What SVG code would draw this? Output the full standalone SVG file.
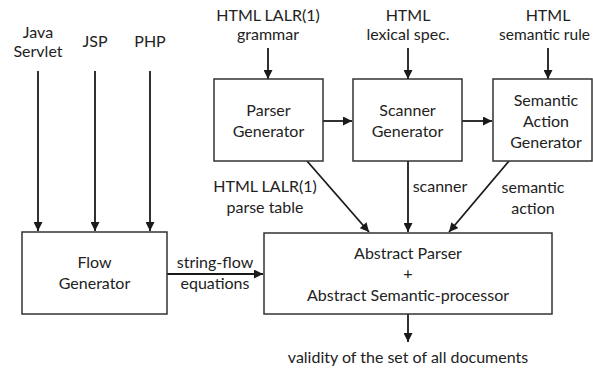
<svg xmlns="http://www.w3.org/2000/svg" width="593" height="369" viewBox="0 0 593 369">
<style>
.box{fill:#fff;stroke:#333;stroke-width:1.5}
.ln{stroke:#1a1a1a;stroke-width:1.8;fill:none}
text{font-family:Lato,"Open Sans","Liberation Sans",sans-serif;font-size:16px;fill:#222;text-anchor:middle}
</style>
<defs>
<marker id="ah" viewBox="0 0 10 10" refX="10" refY="5" markerWidth="10" markerHeight="9" markerUnits="userSpaceOnUse" orient="auto">
<path d="M0,0 L10,5 L0,10 z" fill="#1a1a1a"/>
</marker>
</defs>
<rect width="593" height="369" fill="#fff"/>
<g id="connectors">
<line class="ln" x1="38" y1="71" x2="38" y2="231" marker-end="url(#ah)"/>
<line class="ln" x1="95" y1="71" x2="95" y2="231" marker-end="url(#ah)"/>
<line class="ln" x1="150" y1="71" x2="150" y2="231" marker-end="url(#ah)"/>
<line class="ln" x1="268" y1="48" x2="268" y2="79" marker-end="url(#ah)"/>
<line class="ln" x1="408" y1="48" x2="408" y2="79" marker-end="url(#ah)"/>
<line class="ln" x1="548" y1="48" x2="548" y2="79" marker-end="url(#ah)"/>
<line class="ln" x1="323" y1="121" x2="352" y2="121" marker-end="url(#ah)"/>
<line class="ln" x1="462" y1="121" x2="492" y2="121" marker-end="url(#ah)"/>
<line class="ln" x1="307" y1="161" x2="369" y2="232" marker-end="url(#ah)"/>
<line class="ln" x1="408" y1="161" x2="408" y2="232" marker-end="url(#ah)"/>
<line class="ln" x1="509" y1="161" x2="449" y2="232" marker-end="url(#ah)"/>
<line class="ln" x1="167" y1="274" x2="263" y2="274" marker-end="url(#ah)"/>
<line class="ln" x1="408" y1="314" x2="408" y2="342" marker-end="url(#ah)"/>
</g>
<g id="inputs">
<text x="38" y="38">Java</text>
<text x="38" y="57">Servlet</text>
<text x="95" y="47">JSP</text>
<text x="150" y="47">PHP</text>
<text x="268" y="21">HTML LALR(1)</text>
<text x="268" y="40">grammar</text>
<text x="408" y="21">HTML</text>
<text x="408" y="40">lexical spec.</text>
<text x="548" y="21">HTML</text>
<text x="590" y="40" style="text-anchor:end;font-size:15.5px">semantic rule</text>
</g>
<g id="flow">
<rect class="box" x="22" y="232" width="145" height="82"/>
<text x="94.5" y="268">Flow</text>
<text x="94.5" y="289">Generator</text>
</g>
<g id="parser">
<rect class="box" x="214" y="79" width="109" height="82"/>
<text x="268.5" y="116">Parser</text>
<text x="268.5" y="137">Generator</text>
</g>
<g id="scanner">
<rect class="box" x="353" y="79" width="109" height="82"/>
<text x="407.5" y="116">Scanner</text>
<text x="407.5" y="137">Generator</text>
</g>
<g id="semantic">
<rect class="box" x="493" y="79" width="99" height="82"/>
<text x="546" y="106">Semantic</text>
<text x="546" y="127">Action</text>
<text x="546" y="148">Generator</text>
</g>
<g id="abstract">
<rect class="box" x="264" y="233" width="288" height="81"/>
<text x="408" y="259">Abstract Parser</text>
<text x="408" y="279">+</text>
<text x="408" y="301">Abstract Semantic-processor</text>
</g>
<g id="labels">
<text x="265" y="192">HTML LALR(1)</text>
<text x="265" y="213">parse table</text>
<text x="440" y="192">scanner</text>
<text x="533" y="193">semantic</text>
<text x="533" y="214">action</text>
<text x="215" y="268">string-flow</text>
<text x="215" y="289">equations</text>
<text x="408" y="363">validity of the set of all documents</text>
</g>
</svg>
